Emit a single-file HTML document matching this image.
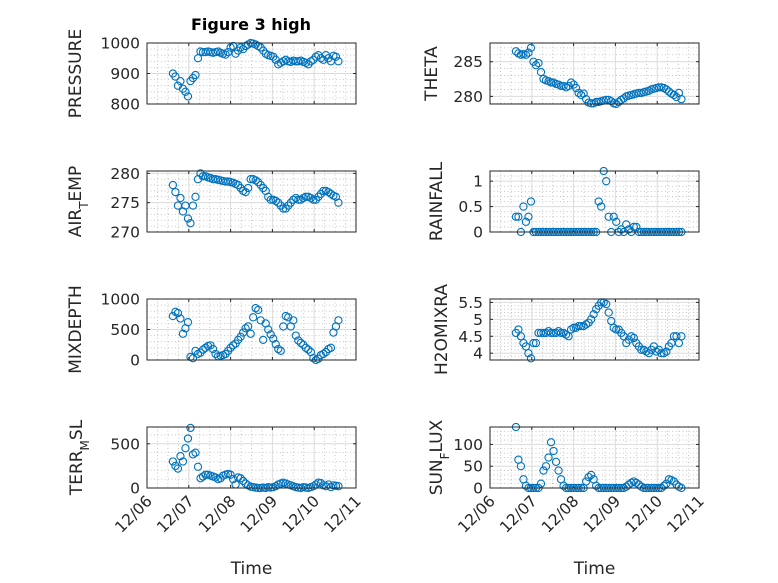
<!DOCTYPE html>
<html><head><meta charset="utf-8"><style>
html,body{margin:0;padding:0;background:#fff;}
svg{display:block;font-family:"DejaVu Sans","Liberation Sans",sans-serif;}
</style></head><body>
<svg id="fig" width="778" height="583" viewBox="0 0 778 583" xmlns="http://www.w3.org/2000/svg">
<rect x="0" y="0" width="778" height="583" fill="#fff"/>
<text x="251" y="30" text-anchor="middle" font-size="16" font-weight="bold" fill="#000">Figure 3 high</text>
</svg>
<script>
// time in days after 12/06 00:00
const times = [0.62,0.68,0.74,0.80,0.86,0.92,0.98,1.04,1.10,1.16,1.22,1.28,1.34,1.40,1.46,1.52,1.58,1.64,1.70,1.76,1.82,1.88,1.94,2.00,2.06,2.12,2.18,2.24,2.30,2.36,2.42,2.48,2.54,2.60,2.66,2.72,2.78,2.84,2.90,2.96,3.02,3.08,3.14,3.20,3.26,3.32,3.38,3.44,3.50,3.56,3.62,3.68,3.74,3.80,3.86,3.92,3.98,4.04,4.10,4.16,4.22,4.28,4.34,4.40,4.46,4.52,4.58];
const xTickLabels = ["12/06","12/07","12/08","12/09","12/10","12/11"];
const pressure = [900,890,860,875,850,840,825,875,885,895,950,972,970,970,972,970,968,970,972,968,965,962,970,985,990,965,975,985,980,990,995,1000,998,995,990,985,975,965,960,958,955,945,930,935,940,945,940,938,942,940,940,942,938,935,930,940,945,955,960,950,945,960,950,940,958,955,940];
const airTemp = [278,276.8,274.5,275.8,273.5,274.5,272.3,271.5,274.5,276,279,280,279.5,279.5,279.3,279.2,279,279,278.9,278.8,278.7,278.6,278.6,278.5,278.4,278.2,278,277.5,277,276.8,277.5,279,279,278.8,278.5,278,277.5,277,276,275.5,275.5,275.3,275,274.5,274,274,274.5,275,275.5,275.8,275.5,275.5,275.8,276,276,275.8,275.5,275.5,276,276.5,277,277,276.8,276.5,276.2,276,275];
const mixDepth = [720,790,770,680,430,520,620,50,30,150,100,120,170,200,230,240,180,100,60,70,80,100,150,200,240,270,330,380,450,520,550,430,700,850,820,650,330,600,500,420,350,260,180,150,550,720,700,550,650,400,320,280,250,200,170,130,30,0,20,80,100,130,180,200,450,550,650];
const terrMsl = [300,250,220,360,300,450,560,680,380,400,240,110,130,150,150,140,130,120,100,110,140,150,160,150,100,40,120,110,80,50,30,15,10,5,0,0,5,0,10,5,10,20,40,50,60,50,40,30,20,10,5,0,10,5,0,10,20,40,60,55,30,20,40,10,30,25,20];
const theta = [286.5,286.2,286,286.1,286,286.3,287,285,284.5,284.8,283.5,282.5,282.3,282.2,282,282,281.8,281.7,281.5,281.5,281.3,281.5,282,281.7,281.2,280.5,280.2,280.4,279.6,279.1,279,279,279.2,279.2,279.3,279.4,279.5,279.5,279.3,279,278.9,279.2,279.5,279.7,280,280.1,280.2,280.3,280.4,280.5,280.5,280.6,280.7,280.8,281,281.1,281.2,281.3,281.3,281.2,281,280.7,280.4,280.2,279.9,280.5,279.6];
const rainfall = [0.3,0.3,0,0.5,0.2,0.3,0.6,0,0,0,0,0,0,0,0,0,0,0,0,0,0,0,0,0,0,0,0,0,0,0,0,0,0,0.6,0.5,1.2,1.0,0.3,0,0.3,0.2,0,0.05,0,0.15,0.05,0,0.1,0.1,0,0,0,0,0,0,0,0,0,0,0,0,0,0,0,0,0,0];
const h2oMix = [4.6,4.7,4.5,4.3,4.2,4.0,3.85,4.3,4.3,4.6,4.6,4.6,4.6,4.65,4.6,4.6,4.6,4.65,4.6,4.6,4.55,4.5,4.7,4.75,4.75,4.8,4.8,4.8,4.85,4.9,5.0,5.15,5.3,5.4,5.5,5.5,5.45,5.2,4.95,4.75,4.7,4.7,4.6,4.5,4.3,4.4,4.5,4.45,4.3,4.2,4.1,4.1,4.05,4.0,4.1,4.2,4.05,4.1,4.0,4.0,4.05,4.2,4.3,4.5,4.5,4.3,4.5];
const sunFlux = [140,65,50,20,5,0,0,0,0,0,10,40,50,70,105,85,60,40,20,5,0,0,0,0,0,0,0,0,15,25,30,20,5,0,0,0,0,0,0,0,0,0,0,0,3,8,12,15,12,8,3,0,0,0,0,0,0,0,0,5,10,20,18,15,8,3,0];
const pressureTicks = [800,900,1000];
const airTempTicks = [270,275,280];
const mixDepthTicks = [0,500,1000];
const terrMslTicks = [0,500];
const thetaTicks = [280,285];
const rainfallTicks = [0,0.5,1];
const h2oMixTicks = [4,4.5,5,5.5];
const sunFluxTicks = [0,50,100];

const NS = "http://www.w3.org/2000/svg";
const svg = document.getElementById('fig');
function mk(tag, attrs, parent){
  const e = document.createElementNS(NS, tag);
  for (const k in attrs) e.setAttribute(k, attrs[k]);
  (parent||svg).appendChild(e);
  return e;
}
const panels = [
  {key:"pressure", vals:pressure, ticks:pressureTicks, ymin:800, ymax:1000, minor:20, left:147, top:43, label:["PRESSURE"], lx:81},
  {key:"theta", vals:theta, ticks:thetaTicks, ymin:278.9, ymax:287.7, minor:1, left:490, top:43, label:["THETA"], lx:437},
  {key:"air-temp", vals:airTemp, ticks:airTempTicks, ymin:270, ymax:280.4, minor:1, left:147, top:171, label:["AIR","T","EMP"], lx:81},
  {key:"rainfall", vals:rainfall, ticks:rainfallTicks, ymin:0, ymax:1.2, minor:0.1, left:490, top:171, label:["RAINFALL"], lx:442},
  {key:"mixdepth", vals:mixDepth, ticks:mixDepthTicks, ymin:0, ymax:1000, minor:100, left:147, top:299, label:["MIXDEPTH"], lx:81},
  {key:"h2omixra", vals:h2oMix, ticks:h2oMixTicks, ymin:3.8, ymax:5.6, minor:0.1, left:490, top:299, label:["H2OMIXRA"], lx:447},
  {key:"terr-msl", vals:terrMsl, ticks:terrMslTicks, ymin:0, ymax:690, minor:100, left:147, top:427, label:["TERR","M","SL"], lx:82, bottom:true},
  {key:"sun-flux", vals:sunFlux, ticks:sunFluxTicks, ymin:0, ymax:140, minor:10, left:490, top:427, label:["SUN","F","LUX"], lx:442, bottom:true}
];
const W = 209, H = 61, XMIN = 0, XMAX = 5;
panels.forEach(p => {
  const g = mk('g', {});
  
  
  const xs = t => p.left + (t - XMIN) / (XMAX - XMIN) * W;
  const ys = v => p.top + H - (v - p.ymin) / (p.ymax - p.ymin) * H;
  mk('rect', {x:p.left, y:p.top, width:W, height:H, fill:'#fff'}, g);
  for (let d = 0; d < 5; d++) for (let k = 1; k < 4; k++) {
    const x = xs(d + k/4);
    mk('line', {x1:x, x2:x, y1:p.top, y2:p.top+H, stroke:'#bbb', 'stroke-width':0.8, 'stroke-dasharray':'1 2.5'}, g);
  }
  const m0 = Math.ceil(p.ymin / p.minor);
  for (let m = m0; m * p.minor <= p.ymax + 1e-9; m++) {
    const v = m * p.minor;
    if (p.ticks.some(t => Math.abs(t - v) < 1e-9)) continue;
    const y = ys(v);
    mk('line', {x1:p.left, x2:p.left+W, y1:y, y2:y, stroke:'#bbb', 'stroke-width':0.8, 'stroke-dasharray':'1 2.5'}, g);
  }
  for (let d = 1; d < 5; d++) {
    const x = xs(d);
    mk('line', {x1:x, x2:x, y1:p.top, y2:p.top+H, stroke:'#dcdcdc', 'stroke-width':1}, g);
  }
  p.ticks.forEach(v => {
    const y = ys(v);
    mk('line', {x1:p.left, x2:p.left+W, y1:y, y2:y, stroke:'#dcdcdc', 'stroke-width':1}, g);
    mk('line', {x1:p.left, x2:p.left+3, y1:y, y2:y, stroke:'#262626', 'stroke-width':1}, g);
    mk('line', {x1:p.left+W-3, x2:p.left+W, y1:y, y2:y, stroke:'#262626', 'stroke-width':1}, g);
    const t = mk('text', {x:p.left-7, y:y+5.5, 'text-anchor':'end', 'font-size':15.5, fill:'#262626'}, g);
    
    
    t.textContent = String(v);
  });
  for (let d = 0; d <= 5; d++) {
    const x = xs(d);
    mk('line', {x1:x, x2:x, y1:p.top+H-3, y2:p.top+H, stroke:'#262626', 'stroke-width':1}, g);
    mk('line', {x1:x, x2:x, y1:p.top, y2:p.top+3, stroke:'#262626', 'stroke-width':1}, g);
    if (p.bottom) {
      const ax = x + 6, ay = p.top + H + 14;
      const tx = mk('text', {x:ax, y:ay, 'text-anchor':'end', 'font-size':15.5, fill:'#262626', transform:`rotate(-45 ${ax} ${ay})`}, g);
      
      
      tx.textContent = xTickLabels[d];
    }
  }
  p.vals.forEach((v, i) => {
    const c = mk('circle', {cx:xs(times[i]), cy:ys(v), r:3.6, fill:'none', stroke:'#0072BD', 'stroke-width':1.1}, g);
    
    
  });
  mk('rect', {x:p.left, y:p.top, width:W, height:H, fill:'none', stroke:'#262626', 'stroke-width':1}, g);
  const cy = p.top + H/2;
  const lab = mk('text', {x:p.lx, y:cy, 'text-anchor':'middle', 'font-size':17, fill:'#262626', transform:`rotate(-90 ${p.lx} ${cy})`}, g);
  
  
  if (p.label.length === 1) lab.textContent = p.label[0];
  else {
    const a = mk('tspan', {}, lab); a.textContent = p.label[0];
    const b = mk('tspan', {dy:7, 'font-size':12}, lab); b.textContent = p.label[1];
    const c2 = mk('tspan', {dy:-7}, lab); c2.textContent = p.label[2];
  }
  if (p.bottom) {
    const tl = mk('text', {x:p.left+W/2, y:574, 'text-anchor':'middle', 'font-size':17, fill:'#262626'}, g);
    
    
    tl.textContent = 'Time';
  }
});
</script>
</body></html>
